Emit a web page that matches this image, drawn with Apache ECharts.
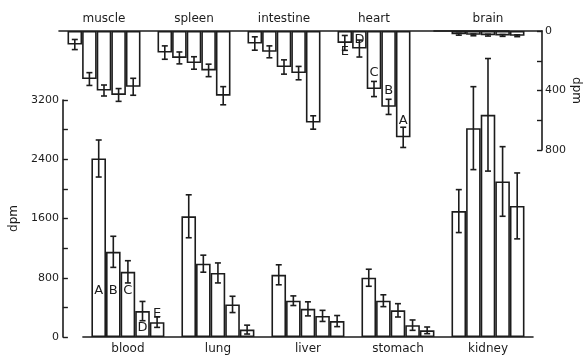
<!DOCTYPE html>
<html>
<head>
<meta charset="utf-8">
<script src="https://cdn.jsdelivr.net/npm/echarts@6/dist/echarts.min.js"></script>
<style>
html, body { margin: 0; padding: 0; background: #fff; }
#main { width: 585px; height: 358px; }
</style>
</head>
<body>
<div id="main"></div>
<script>
var topOrgans = ['muscle', 'spleen', 'intestine', 'heart', ''];
var brainOrgan = ['brain'];
var bottomOrgans = ['blood', 'lung', 'liver', 'stomach', 'kidney'];
var letters = ['A', 'B', 'C', 'D', 'E'];

// upper panel (bars hang down): muscle, spleen, intestine, heart
var topA = [375, 435, 615, 715];
var topB = [430, 265, 283, 510];
var topC = [400, 215, 242, 390];
var topD = [323, 181, 140, 118];
var topE = [91, 145, 84, 80];
var topErrA = [57, 61, 45, 68];
var topErrB = [43, 42, 45, 51];
var topErrC = [37, 42, 48, 51];
var topErrD = [43, 40, 40, 57];
var topErrE = [34, 45, 45, 50];

// brain, A..E
var brainVals = [32, 30, 28, 26, 22];
var brainErr = [6, 6, 6, 6, 6];

// lower panel: blood, lung, liver, stomach, kidney
var botA = [2410, 1630, 840, 800, 1700];
var botB = [1150, 990, 490, 490, 2820];
var botC = [880, 865, 380, 360, 3000];
var botD = [350, 440, 285, 160, 2100];
var botE = [200, 100, 215, 90, 1770];
var botErrA = [250, 290, 135, 115, 290];
var botErrB = [210, 115, 65, 80, 560];
var botErrC = [150, 135, 95, 90, 760];
var botErrD = [130, 110, 75, 70, 470];
var botErrE = [70, 60, 75, 45, 445];

var leftTicks = [0, 800, 1600, 2400, 3200];
var rightTicks = [0, 400, 800];

var topVals = [topA, topB, topC, topD, topE];
var topErrs = [topErrA, topErrB, topErrC, topErrD, topErrE];
var botVals = [botA, botB, botC, botD, botE];
var botErrs = [botErrA, botErrB, botErrC, botErrD, botErrE];

var BAR_W = 14.6;
var INK = '#1c1c1c';
var FONT = 'DejaVu Sans';

// letter labels on the blood group (lower) and heart group (upper)
var bloodLabels = [
    { position: 'insideBottom', distance: 40 },
    { position: 'insideBottom', distance: 40 },
    { position: 'insideBottom', distance: 40 },
    { position: 'insideBottom', distance: 3 },
    { position: 'top', distance: 2 }
];
var heartLabels = [
    { position: 'insideBottom', distance: 10 },
    { position: 'insideBottom', distance: 10 },
    { position: 'insideBottom', distance: 10 },
    { position: 'insideTop', distance: 2 },
    { position: 'bottom', distance: 2 }
];

function barSeries(letter, xi, yi, vals, labelIdx, labelCfg) {
    return {
        name: letter,
        type: 'bar',
        xAxisIndex: xi,
        yAxisIndex: yi,
        barWidth: BAR_W,
        barGap: '0%',
        itemStyle: { color: '#fff', borderColor: INK, borderWidth: 1.6 },
        data: vals.map(function (v, i) {
            if (i !== labelIdx || !labelCfg) return v;
            return {
                value: v,
                label: {
                    show: true,
                    position: labelCfg.position,
                    distance: labelCfg.distance,
                    formatter: letter,
                    color: INK,
                    fontFamily: FONT,
                    fontSize: 13
                }
            };
        }),
        silent: true
    };
}

function errSeries(letter, xi, yi, vals, errs, slot) {
    return {
        name: letter + ' err',
        type: 'custom',
        xAxisIndex: xi,
        yAxisIndex: yi,
        z: 5,
        silent: true,
        renderItem: function (params, api) {
            var x = api.value(0), v = api.value(1), e = api.value(2);
            var hi = api.coord([x, v + e]);
            var lo = api.coord([x, Math.max(v - e, 0)]);
            var cx = hi[0] + (slot - 2) * BAR_W;
            var cap = 3;
            var st = { stroke: INK, lineWidth: 1.6 };
            return {
                type: 'group',
                children: [
                    { type: 'line', shape: { x1: cx, y1: hi[1], x2: cx, y2: lo[1] }, style: st },
                    { type: 'line', shape: { x1: cx - cap, y1: hi[1], x2: cx + cap, y2: hi[1] }, style: st },
                    { type: 'line', shape: { x1: cx - cap, y1: lo[1], x2: cx + cap, y2: lo[1] }, style: st }
                ]
            };
        },
        data: vals.map(function (v, i) { return [i, v, errs[i]]; })
    };
}

var series = [];
// upper panels: left to right E, D, C, B, A
for (var s = 0; s < 5; s++) {
    var k = 4 - s;
    series.push(barSeries(letters[k], 0, 0, topVals[k], 3, heartLabels[k]));
    series.push(errSeries(letters[k], 0, 0, topVals[k], topErrs[k], s));
    series.push(barSeries(letters[k], 1, 1, [brainVals[k]], -1, null));
    series.push(errSeries(letters[k], 1, 1, [brainVals[k]], [brainErr[k]], s));
}
// lower panel: left to right A..E
for (var j = 0; j < 5; j++) {
    series.push(barSeries(letters[j], 2, 2, botVals[j], 0, bloodLabels[j]));
    series.push(errSeries(letters[j], 2, 2, botVals[j], botErrs[j], j));
}

var catAxis = function (grid, data, pos) {
    return {
        type: 'category',
        gridIndex: grid,
        position: pos,
        data: data,
        axisLine: { show: true, lineStyle: { color: INK, width: 1.6 } },
        axisTick: { show: false },
        axisLabel: { color: INK, fontFamily: FONT, fontSize: 12, margin: 6 }
    };
};

var myChart = echarts.init(document.getElementById('main'));
var option = {
    backgroundColor: '#fff',
    animation: false,
    grid: [
        { left: 59, top: 31, width: 450, height: 119 },
        { left: 434, top: 31, width: 108, height: 119 },
        { left: 82, top: 100, width: 451, height: 237 }
    ],
    xAxis: [
        catAxis(0, topOrgans, 'top'),
        catAxis(1, brainOrgan, 'top'),
        catAxis(2, bottomOrgans, 'bottom')
    ],
    yAxis: [
        { type: 'value', gridIndex: 0, inverse: true, min: 0, max: 800, show: false },
        {
            type: 'value', gridIndex: 1, inverse: true, min: 0, max: 800, interval: 200,
            position: 'right',
            name: 'dpm', nameLocation: 'middle', nameRotate: -90, nameGap: 10,
            nameTextStyle: { color: INK, fontFamily: FONT, fontSize: 12 },
            axisLine: { show: true, lineStyle: { color: INK, width: 1.6 } },
            axisTick: { show: true, inside: true, length: 5, lineStyle: { color: INK, width: 1.4 } },
            splitLine: { show: false },
            axisLabel: {
                color: INK, fontFamily: FONT, fontSize: 11, margin: 3,
                formatter: function (v) { return rightTicks.indexOf(v) >= 0 ? String(v) : ''; }
            }
        },
        {
            type: 'value', gridIndex: 2, min: 0, max: 3200, interval: 400,
            position: 'left', offset: 20,
            name: 'dpm', nameLocation: 'middle', nameGap: 40,
            nameTextStyle: { color: INK, fontFamily: FONT, fontSize: 12 },
            axisLine: { show: true, lineStyle: { color: INK, width: 1.6 } },
            axisTick: { show: true, inside: true, length: 5, lineStyle: { color: INK, width: 1.4 } },
            splitLine: { show: false },
            axisLabel: {
                color: INK, fontFamily: FONT, fontSize: 11, margin: 4,
                formatter: function (v) { return leftTicks.indexOf(v) >= 0 ? String(v) : ''; }
            }
        }
    ],
    series: series
};
option && myChart.setOption(option);
</script>
</body>
</html>
